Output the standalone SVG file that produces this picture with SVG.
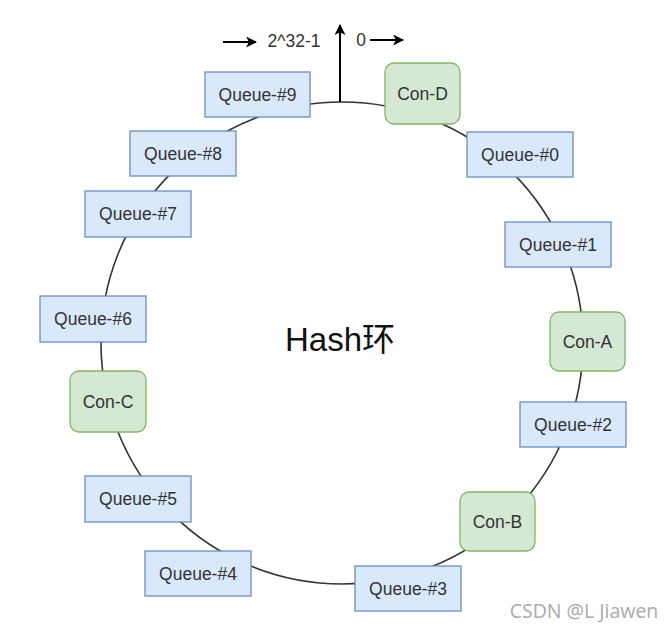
<svg xmlns="http://www.w3.org/2000/svg" width="672" height="631" viewBox="0 0 672 631">
<style>
.q rect{fill:#dae8fc;stroke:#6c8ebf;stroke-width:1.3}
.c rect{fill:#d5e8d4;stroke:#82b366;stroke-width:1.3}
text{font-family:"Liberation Sans",Arial,sans-serif;font-size:17.5px;fill:#333;text-anchor:middle;dominant-baseline:central}
.edge{fill:none;stroke:#333;stroke-width:1.6}
.arr{stroke:#000;stroke-width:2}
</style>
<defs>
<marker id="ah" viewBox="0 0 10 10" refX="9" refY="5" markerWidth="11" markerHeight="11" orient="auto" markerUnits="userSpaceOnUse">
<path d="M0,0 L10,5 L0,10 L2.5,5 Z" fill="#000"/>
</marker>
</defs>
<rect width="672" height="631" fill="#fff"/>
<g id="connectors">
<circle class="edge" cx="342" cy="343" r="241"/>
<line class="arr" x1="340" y1="102" x2="340" y2="25" marker-end="url(#ah)"/>
<line class="arr" x1="223" y1="42" x2="256" y2="42" marker-end="url(#ah)"/>
<line class="arr" x1="370" y1="40" x2="403" y2="40" marker-end="url(#ah)"/>
</g>
<text x="294" y="41">2^32-1</text>
<text x="361" y="40">0</text>
<g id="queue9" class="q"><rect x="205" y="72" width="105" height="45"/><text x="257.5" y="94.5">Queue-#9</text></g>
<g id="conD" class="c"><rect x="385" y="63" width="75" height="61" rx="9"/><text x="422.5" y="93.5">Con-D</text></g>
<g id="queue0" class="q"><rect x="467" y="132" width="106" height="45"/><text x="520" y="154.5">Queue-#0</text></g>
<g id="queue1" class="q"><rect x="505" y="222" width="106" height="45"/><text x="558" y="244.5">Queue-#1</text></g>
<g id="conA" class="c"><rect x="550" y="312" width="75" height="59" rx="9"/><text x="587.5" y="341.5">Con-A</text></g>
<g id="queue2" class="q"><rect x="520" y="402" width="106" height="45"/><text x="573" y="424.5">Queue-#2</text></g>
<g id="conB" class="c"><rect x="460" y="492" width="75" height="59" rx="9"/><text x="497.5" y="521.5">Con-B</text></g>
<g id="queue3" class="q"><rect x="355" y="566" width="106" height="45"/><text x="408" y="588.5">Queue-#3</text></g>
<g id="queue4" class="q"><rect x="145" y="551" width="106" height="45"/><text x="198" y="573.5">Queue-#4</text></g>
<g id="queue5" class="q"><rect x="85" y="476" width="106" height="46"/><text x="138" y="499">Queue-#5</text></g>
<g id="conC" class="c"><rect x="70" y="371" width="76" height="61" rx="9"/><text x="108" y="401.5">Con-C</text></g>
<g id="queue6" class="q"><rect x="40" y="296" width="106" height="46"/><text x="93" y="319">Queue-#6</text></g>
<g id="queue7" class="q"><rect x="85" y="191" width="106" height="46"/><text x="138" y="214">Queue-#7</text></g>
<g id="queue8" class="q"><rect x="130" y="131" width="106" height="45"/><text x="183" y="153.5">Queue-#8</text></g>
<text x="340" y="339" style="font-family:'Liberation Sans','Noto Sans CJK SC',sans-serif;font-size:33px;fill:#111">Hash环</text>
<text x="584" y="610" style="font-family:'Open Sans',sans-serif;font-size:19.5px;fill:#aaa">CSDN @L Jiawen</text>
</svg>
